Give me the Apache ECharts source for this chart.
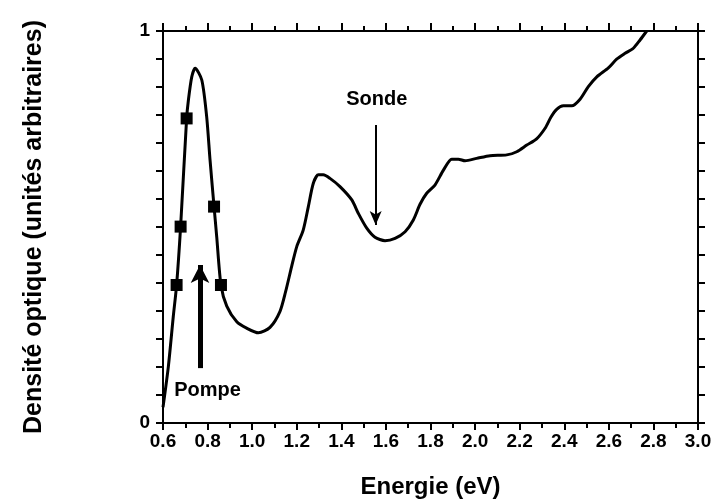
<!DOCTYPE html>
<html>
<head>
<meta charset="utf-8">
<script src="https://cdn.jsdelivr.net/npm/echarts@6/dist/echarts.min.js"></script>
<style>
  html, body { margin: 0; padding: 0; background: #fff; }
  #chart { width: 715px; height: 501px; }
</style>
</head>
<body>
<div id="chart"></div>
<script>
// Absorption spectrum: [energy (eV), optical density (arb. units)]
const spectrum = [
  [0.600, 0.040], [0.624, 0.144], [0.646, 0.271], [0.661, 0.352], [0.679, 0.501],
  [0.706, 0.777], [0.714, 0.824], [0.729, 0.883], [0.744, 0.905], [0.774, 0.875],
  [0.796, 0.781], [0.811, 0.671], [0.829, 0.552], [0.841, 0.475], [0.860, 0.352],
  [0.886, 0.298], [0.931, 0.258], [0.975, 0.242], [1.028, 0.230], [1.080, 0.244],
  [1.125, 0.285], [1.150, 0.335], [1.177, 0.399], [1.200, 0.450], [1.229, 0.492],
  [1.252, 0.552], [1.274, 0.611], [1.297, 0.633], [1.319, 0.633], [1.349, 0.624],
  [1.394, 0.603], [1.447, 0.569], [1.476, 0.535], [1.514, 0.497], [1.551, 0.474],
  [1.596, 0.465], [1.641, 0.471], [1.686, 0.488], [1.723, 0.518], [1.753, 0.558],
  [1.783, 0.586], [1.820, 0.607], [1.858, 0.645], [1.895, 0.673], [1.925, 0.673],
  [1.955, 0.669], [2.007, 0.675], [2.067, 0.682], [2.142, 0.684], [2.187, 0.692],
  [2.232, 0.709], [2.276, 0.725], [2.314, 0.752], [2.340, 0.780], [2.366, 0.800],
  [2.396, 0.809], [2.434, 0.809], [2.471, 0.826], [2.508, 0.858], [2.546, 0.883],
  [2.598, 0.906], [2.635, 0.928], [2.673, 0.943], [2.710, 0.956], [2.740, 0.977],
  [2.770, 1.000]
];

// Sampled points on the pump band
const pumpPoints = [
  [0.661, 0.352], [0.679, 0.501], [0.706, 0.777], [0.829, 0.552], [0.860, 0.352]
];

// Arrows: [x, yTail, yHead]
const pumpArrow = [0.766, 0.140, 0.403];
const probeArrow = [1.554, 0.760, 0.505];

// Annotation texts: [label, x, y]
const pumpLabel = ['Pompe', 0.80, 0.082];
const probeLabel = ['Sonde', 1.559, 0.826];

const xRange = { min: 0.6, max: 3.0, step: 0.2 };
const yLabels = ['0', '1'];

const FONT = 'Liberation Sans, Arial, sans-serif';

const chart = echarts.init(document.getElementById('chart'), null, { renderer: 'canvas' });

const tickStyle = { color: '#000', width: 2 };
function axisLine() {
  return { show: true, onZero: false, lineStyle: { color: '#000', width: 2 } };
}

// Three overlapping grids: main frame (bottom + left), top ticks, right ticks
function gridRect() {
  return {
    left: 163, right: 17, top: 31, bottom: 78,
    containLabel: false, outerBoundsMode: 'none'
  };
}

function xAxisFrame(gridIndex, position, visible) {
  return {
    gridIndex: gridIndex, type: 'value', position: position, show: visible,
    min: xRange.min, max: xRange.max, interval: xRange.step,
    axisLine: axisLine(),
    axisTick: { show: true, inside: false, length: position === 'top' ? 8 : 7, lineStyle: tickStyle },
    minorTick: { show: true, splitNumber: 2, length: 5, lineStyle: tickStyle },
    splitLine: { show: false },
    axisLabel: { show: false }
  };
}

function yAxisFrame(gridIndex, position, visible) {
  return {
    gridIndex: gridIndex, type: 'value', position: position, show: visible,
    min: 0, max: 1, interval: 1,
    axisLine: axisLine(),
    axisTick: { show: true, inside: false, length: 7, lineStyle: tickStyle },
    minorTick: { show: true, splitNumber: 14, length: 7, lineStyle: tickStyle },
    splitLine: { show: false },
    axisLabel: { show: false }
  };
}

function arrowLine(a, width, headSize) {
  return {
    symbol: ['none', 'arrow'],
    symbolSize: headSize,
    silent: true,
    label: { show: false },
    emphasis: { disabled: true },
    lineStyle: { color: '#000', width: width, type: 'solid', opacity: 1 },
    itemStyle: { color: '#000' },
    data: [[{ coord: [a[0], a[1]] }, { coord: [a[0], a[2]] }]]
  };
}

function textPoint(t) {
  return {
    symbol: 'circle',
    symbolSize: 0,
    silent: true,
    label: {
      show: true, position: 'inside', formatter: t[0],
      color: '#000', fontFamily: FONT, fontWeight: 'bold', fontSize: 20
    },
    data: [{ coord: [t[1], t[2]] }]
  };
}

const xBottom = Object.assign(xAxisFrame(0, 'bottom', true), {
  axisLabel: {
    show: true, color: '#000', fontFamily: FONT, fontWeight: 'bold', fontSize: 19, margin: 9,
    formatter: v => v.toFixed(1)
  },
  name: 'Energie (eV)', nameLocation: 'middle', nameGap: 52,
  nameTextStyle: { color: '#000', fontFamily: FONT, fontWeight: 'bold', fontSize: 24 }
});

const yLeft = Object.assign(yAxisFrame(0, 'left', true), {
  axisLabel: {
    show: true, color: '#000', fontFamily: FONT, fontWeight: 'bold', fontSize: 19, margin: 13,
    formatter: v => yLabels[Math.round(v)]
  },
  name: 'Densité optique (unités arbitraires)', nameLocation: 'middle', nameGap: 116,
  nameRotate: 90,
  nameTextStyle: { color: '#000', fontFamily: FONT, fontWeight: 'bold', fontSize: 25 }
});

const option = {
  animation: false,
  backgroundColor: '#fff',
  grid: [gridRect(), gridRect(), gridRect()],
  xAxis: [xBottom, xAxisFrame(1, 'top', true), xAxisFrame(2, 'bottom', false)],
  yAxis: [yLeft, yAxisFrame(1, 'left', false), yAxisFrame(2, 'right', true)],
  series: [
    {
      type: 'line', xAxisIndex: 0, yAxisIndex: 0,
      data: spectrum, smooth: 0.25, showSymbol: false,
      lineStyle: { color: '#000', width: 3 }, z: 3,
      markLine: arrowLine(probeArrow, 2, [9, 14]),
      markPoint: textPoint(probeLabel)
    },
    {
      type: 'scatter', xAxisIndex: 0, yAxisIndex: 0,
      data: pumpPoints, symbol: 'rect', symbolSize: 12,
      itemStyle: { color: '#000', opacity: 1 }, z: 4,
      markLine: arrowLine(pumpArrow, 5, [14, 18]),
      markPoint: textPoint(pumpLabel)
    }
  ]
};

chart.setOption(option);
</script>
</body>
</html>
